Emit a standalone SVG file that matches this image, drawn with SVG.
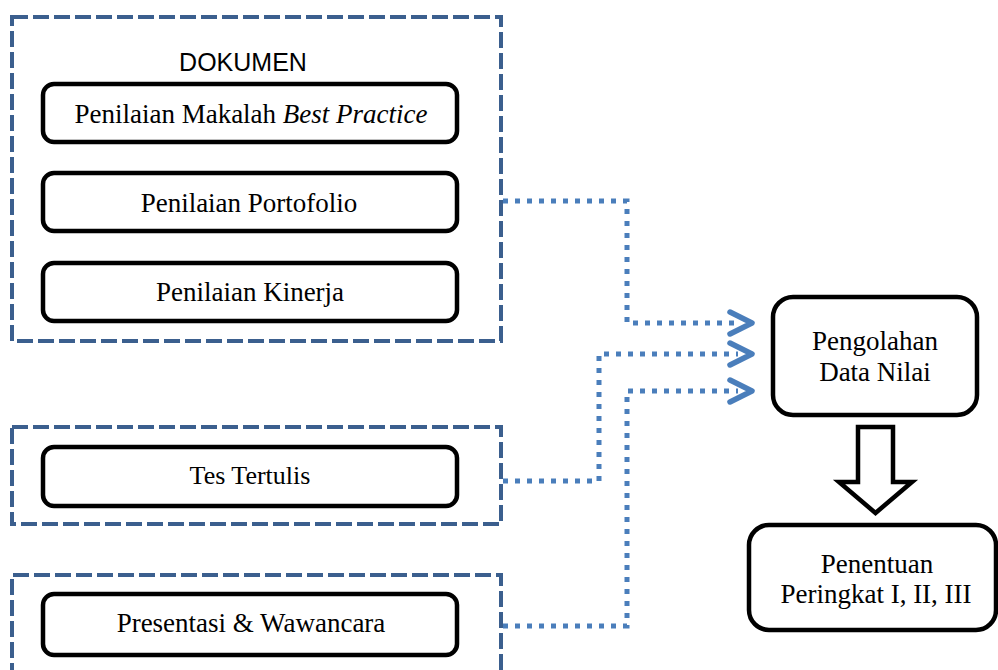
<svg xmlns="http://www.w3.org/2000/svg" width="998" height="670" viewBox="0 0 998 670">
<style>
.grp{fill:none;stroke:#3B5F8E;stroke-width:4;stroke-dasharray:16 5}
.box{fill:#fff;stroke:#000;stroke-width:4.5}
.t{font-family:"Liberation Serif","Times New Roman",serif;font-size:27px;fill:#000;text-anchor:middle}
.s{font-family:"Liberation Sans",Arial,sans-serif;font-size:25px;fill:#000;text-anchor:middle}
.con{fill:none;stroke:#4A7EBB;stroke-width:5;stroke-dasharray:5 7}
</style>
<defs>
<marker id="chev" markerUnits="userSpaceOnUse" markerWidth="40" markerHeight="30" refX="16" refY="15" orient="auto" overflow="visible">
<path d="M8,4 L30,15 L8,26" fill="none" stroke="#4A7EBB" stroke-width="5.5" stroke-linecap="round" stroke-linejoin="round"/>
</marker>
</defs>
<rect width="998" height="670" fill="#fff"/>
<g id="group-dokumen">
<rect class="grp" x="12" y="17" width="489" height="324"/>
<text class="s" x="243" y="71">DOKUMEN</text>
</g>
<g id="group-tes">
<rect class="grp" x="12" y="427" width="489" height="97"/>
</g>
<g id="group-presentasi">
<path class="grp" d="M12,700 V575 H501 V700"/>
</g>
<g id="n-makalah">
<rect class="box" x="43" y="84" width="414" height="58" rx="11"/>
<text class="t" x="251" y="123">Penilaian Makalah <tspan font-style="italic">Best Practice</tspan></text>
</g>
<g id="n-portofolio">
<rect class="box" x="43" y="173" width="414" height="58" rx="11"/>
<text class="t" x="249" y="212">Penilaian Portofolio</text>
</g>
<g id="n-kinerja">
<rect class="box" x="43" y="263" width="414" height="58" rx="11"/>
<text class="t" x="250" y="301">Penilaian Kinerja</text>
</g>
<g id="n-tes">
<rect class="box" x="43" y="447" width="414" height="59" rx="11"/>
<text class="t" x="250" y="484" style="font-size:26px">Tes Tertulis</text>
</g>
<g id="n-presentasi">
<rect class="box" x="43" y="594" width="414" height="61" rx="11"/>
<text class="t" x="251" y="632">Presentasi &amp; Wawancara</text>
</g>
<g id="n-pengolahan">
<rect class="box" x="773" y="297" width="204" height="118" rx="20"/>
<text class="t" x="875" y="350">Pengolahan</text>
<text class="t" x="875" y="381">Data Nilai</text>
</g>
<g id="n-penentuan">
<rect class="box" x="749" y="525" width="247" height="105" rx="20"/>
<text class="t" x="877" y="573">Penentuan</text>
<text class="t" x="876" y="603">Peringkat I, II, III</text>
</g>
<g id="connectors">
<path class="con" d="M503,201 H627 V323 H738" marker-end="url(#chev)"/>
<path class="con" d="M503,481 H599 V354 H738" marker-end="url(#chev)"/>
<path class="con" d="M503,626 H627 V391 H738" marker-end="url(#chev)"/>
<polygon points="858,427 893,427 893,482 912,482 875.5,513 839,482 858,482" fill="#fff" stroke="#000" stroke-width="4.5" stroke-linejoin="miter"/>
</g>
</svg>
